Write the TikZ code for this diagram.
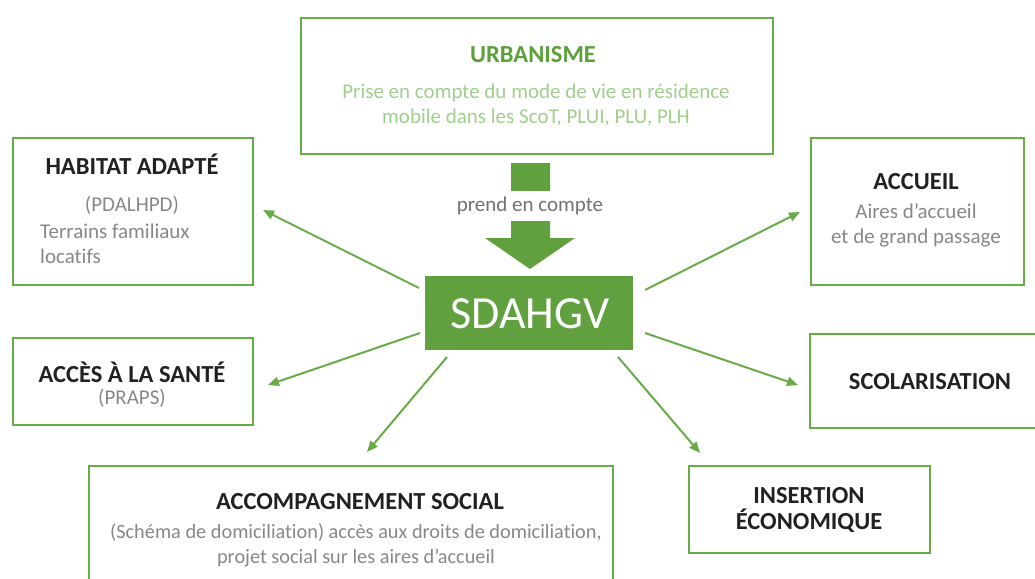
\documentclass[tikz,border=0pt]{standalone}
\usepackage{fontspec}
\setmainfont[Ligatures=NoCommon]{Carlito}
\usetikzlibrary{arrows.meta}
\definecolor{gr}{RGB}{104,172,72}
\definecolor{grfill}{RGB}{96,160,62}
\definecolor{grtitle}{RGB}{92,160,60}
\definecolor{grlight}{RGB}{160,206,140}
\definecolor{dark}{RGB}{35,32,32}
\definecolor{graytxt}{RGB}{135,135,135}
\tikzset{
  box/.style={draw=gr, line width=2.2pt, anchor=north west, inner sep=0pt},
  ttl/.style={font=\fontsize{24.5}{26}\selectfont\bfseries, text=dark, inner sep=0pt, align=center},
  body/.style={font=\fontsize{21}{25}\selectfont, text=graytxt, inner sep=0pt, align=center},
  conn/.style={draw=gr, line width=2pt, -{Triangle[length=11pt,width=9pt]}},
}
\begin{document}
\begin{tikzpicture}[x=1pt,y=-1pt]
\useasboundingbox (0,0) rectangle (1035,578);
\clip (0,0) rectangle (1035,578);
% boxes
\node[box, minimum width=472pt, minimum height=136pt] (urb) at (300,17) {};
\node[box, minimum width=240pt, minimum height=147pt] (hab) at (12,137) {};
\node[box, minimum width=213pt, minimum height=147pt] (acc) at (810,137) {};
\node[box, minimum width=240pt, minimum height=87pt] (san) at (12,337) {};
\node[box, minimum width=240pt, minimum height=94pt] (sco) at (809,333) {};
\node[box, minimum width=524pt, minimum height=130pt] (soc) at (88,465) {};
\node[box, minimum width=241pt, minimum height=87pt] (ins) at (688,465) {};
% central
\node[fill=grfill, draw=none, anchor=north west, minimum width=208pt, minimum height=74pt, inner sep=0pt] (sd) at (425,276) {};
\node[font=\fontsize{46}{50}\selectfont, text=white, inner sep=0pt] (sdt) at (530,314) {SDAHGV};
% big arrow
\fill[grfill] (511,163) -- (550,163) -- (550,238) -- (575,238) -- (530,269) -- (485,238) -- (511,238) -- cycle;
\node[fill=white, font=\fontsize{21}{22}\selectfont, text=graytxt!80!dark, inner sep=0pt, minimum height=30pt, minimum width=150pt] (pec) at (530,206) {prend en compte};
% texts
\node[ttl, text=grtitle] (urbt) at (533,55) {URBANISME};
\node[body, text=grlight] (urbb) at (536,105) {Prise en compte du mode de vie en résidence\\mobile dans les ScoT, PLUI, PLU, PLH};
\node[ttl] (habt) at (132,164) {HABITAT ADAPTÉ};
\node[body] (habp) at (132,205) {(PDALHPD)};
\node[body, anchor=west, align=left] (habb) at (40,244) {Terrains familiaux\\locatifs};
\node[ttl] (acct) at (916,182) {ACCUEIL};
\node[body] (accb) at (916,225) {Aires d’accueil\\et de grand passage};
\node[ttl] (sant) at (132,372) {ACCÈS À LA SANTÉ};
\node[body] (sanb) at (132,398) {(PRAPS)};
\node[ttl] (scot) at (930,382) {SCOLARISATION};
\node[ttl] (soct) at (360,502) {ACCOMPAGNEMENT SOCIAL};
\node[body, font=\fontsize{20.3}{25}\selectfont] (socb) at (356,545) {(Schéma de domiciliation) accès aux droits de domiciliation,\\projet social sur les aires d’accueil};
\node[ttl] (inst) at (809,510) {INSERTION\\ÉCONOMIQUE};
% connector endpoints
\coordinate (s1) at (419,288); \coordinate (e1) at (263,210);
\coordinate (s2) at (420,333); \coordinate (e2) at (268,385);
\coordinate (s3) at (447,357); \coordinate (e3) at (367,452);
\coordinate (s4) at (618,357); \coordinate (e4) at (700,453);
\coordinate (s5) at (645,333); \coordinate (e5) at (798,385);
\coordinate (s6) at (645,290); \coordinate (e6) at (800,212);
\draw[conn] (s1) -- (e1);
\draw[conn] (s2) -- (e2);
\draw[conn] (s3) -- (e3);
\draw[conn] (s4) -- (e4);
\draw[conn] (s5) -- (e5);
\draw[conn] (s6) -- (e6);
\end{tikzpicture}
\end{document}
